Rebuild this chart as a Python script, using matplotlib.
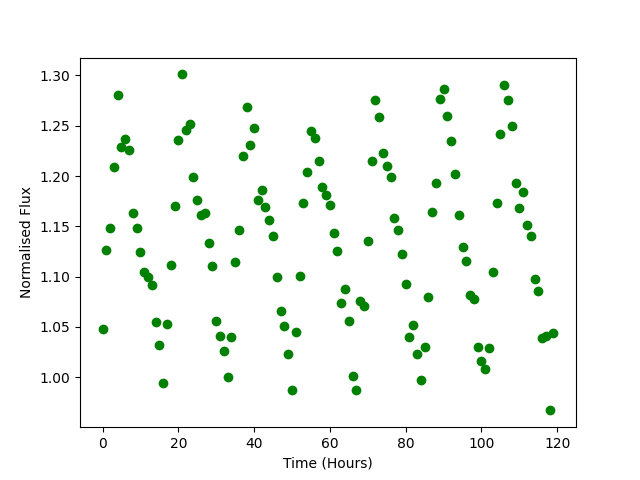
import matplotlib
matplotlib.use('Agg')
import matplotlib.pyplot as plt

# one reading per hour
hours = list(range(120))
flux = [1.048, 1.126, 1.148, 1.209, 1.281, 1.229, 1.237, 1.226, 1.163, 1.148,
        1.124, 1.105, 1.100, 1.092, 1.055, 1.032, 0.994, 1.053, 1.112, 1.170,
        1.236, 1.301, 1.246, 1.252, 1.199, 1.176, 1.161, 1.163, 1.133, 1.111,
        1.056, 1.041, 1.026, 1.000, 1.040, 1.115, 1.146, 1.220, 1.269, 1.231,
        1.248, 1.176, 1.186, 1.169, 1.156, 1.140, 1.100, 1.066, 1.051, 1.023,
        0.987, 1.045, 1.101, 1.173, 1.204, 1.245, 1.238, 1.215, 1.189, 1.181,
        1.171, 1.143, 1.125, 1.074, 1.088, 1.056, 1.001, 0.987, 1.076, 1.071,
        1.135, 1.215, 1.276, 1.259, 1.223, 1.210, 1.199, 1.158, 1.146, 1.122,
        1.093, 1.040, 1.052, 1.023, 0.997, 1.030, 1.080, 1.164, 1.193, 1.277,
        1.286, 1.260, 1.235, 1.202, 1.161, 1.129, 1.116, 1.082, 1.078, 1.030,
        1.016, 1.008, 1.029, 1.105, 1.173, 1.242, 1.290, 1.276, 1.250, 1.193,
        1.168, 1.184, 1.151, 1.140, 1.098, 1.086, 1.039, 1.041, 0.967, 1.044]

plt.figure(figsize=(6.4, 4.8), dpi=100)
plt.plot(hours, flux, 'go')
plt.xlabel('Time (Hours)')
plt.ylabel('Normalised Flux')
plt.savefig('out.png')
